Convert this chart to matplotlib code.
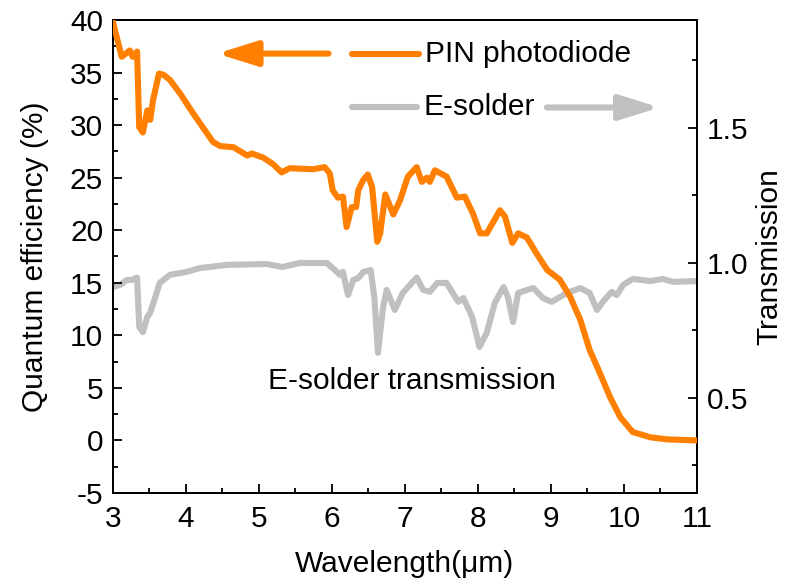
import numpy as np
import matplotlib
matplotlib.use("Agg")
import matplotlib.pyplot as plt
from matplotlib.ticker import MultipleLocator

plt.rcParams['font.family'] = ['Liberation Sans', 'DejaVu Sans']
plt.rcParams['axes.unicode_minus'] = False

# Quantum efficiency of the PIN photodiode (%) vs wavelength (um)
qe_wl = [3.00, 3.12, 3.23, 3.27, 3.33, 3.36, 3.41, 3.47, 3.51, 3.55, 3.63, 3.69,
         3.78, 3.92, 4.10, 4.23, 4.37, 4.47, 4.65, 4.84, 4.90, 5.06, 5.19, 5.31,
         5.42, 5.74, 5.90, 5.97, 6.01, 6.08, 6.15, 6.20, 6.27, 6.33, 6.36, 6.43,
         6.49, 6.55, 6.62, 6.66, 6.73, 6.84, 6.93, 7.04, 7.16, 7.23, 7.30, 7.34,
         7.41, 7.57, 7.71, 7.82, 7.93, 8.03, 8.12, 8.30, 8.37, 8.47, 8.55, 8.67,
         8.81, 8.95, 9.12, 9.26, 9.40, 9.53, 9.67, 9.81, 9.95, 10.12, 10.36,
         10.59, 11.00]
qe_val = [39.8, 36.5, 37.1, 36.5, 37.0, 29.8, 29.3, 31.4, 30.5, 32.4, 34.9, 34.8,
          34.3, 33.0, 31.1, 29.8, 28.4, 28.0, 27.9, 27.1, 27.3, 26.9, 26.3, 25.5,
          25.9, 25.8, 26.0, 25.4, 23.8, 23.1, 23.2, 20.3, 22.2, 22.2, 23.8, 24.8,
          25.3, 24.1, 18.9, 19.7, 23.4, 21.5, 22.8, 25.1, 26.0, 24.6, 25.0, 24.6,
          25.7, 25.1, 23.1, 23.2, 21.6, 19.7, 19.7, 21.9, 21.3, 18.8, 19.7, 19.3,
          17.7, 16.2, 15.3, 13.7, 11.5, 8.6, 6.4, 4.1, 2.2, 0.8, 0.3,
          0.1, 0.0]

# Transmission of the E-solder film vs wavelength (um)
tr_wl = [3.00, 3.10, 3.19, 3.26, 3.33, 3.36, 3.41, 3.47, 3.51, 3.58, 3.64, 3.78,
         4.01, 4.19, 4.56, 5.11, 5.32, 5.56, 5.93, 6.01, 6.11, 6.15, 6.22, 6.29,
         6.36, 6.43, 6.53, 6.58, 6.63, 6.70, 6.75, 6.86, 6.97, 7.16, 7.25, 7.34,
         7.44, 7.57, 7.73, 7.80, 7.92, 8.02, 8.12, 8.23, 8.35, 8.41, 8.48, 8.55,
         8.67, 8.76, 8.89, 9.01, 9.22, 9.40, 9.53, 9.63, 9.71, 9.83, 9.90, 9.99,
         10.12, 10.36, 10.53, 10.67, 11.00]
tr_val = [0.911, 0.919, 0.937, 0.937, 0.946, 0.763, 0.744, 0.800, 0.815, 0.874,
          0.926, 0.956, 0.967, 0.981, 0.993, 0.996, 0.985, 1.000, 1.000, 0.981,
          0.956, 0.967, 0.881, 0.937, 0.944, 0.967, 0.974, 0.874, 0.667, 0.837,
          0.900, 0.826, 0.889, 0.946, 0.900, 0.893, 0.926, 0.926, 0.856, 0.870,
          0.800, 0.689, 0.741, 0.852, 0.911, 0.874, 0.781, 0.889, 0.900, 0.907,
          0.870, 0.856, 0.889, 0.907, 0.889, 0.826, 0.856, 0.893, 0.881, 0.919,
          0.941, 0.933, 0.941, 0.930, 0.933]

ORANGE = '#ff8000'
GREY = '#c0c0c0'
FS = 21.5
LW = 4.4

fig = plt.figure(figsize=(7.85, 5.83), dpi=100)
ax = fig.add_axes([0.1439, 0.1544, 0.7440, 0.8113])
ax2 = ax.twinx()

ax.plot(qe_wl, qe_val, color=ORANGE, lw=LW, solid_joinstyle='round',
        solid_capstyle='round', zorder=3)
ax2.plot(tr_wl, tr_val, color=GREY, lw=LW, solid_joinstyle='round',
         solid_capstyle='round', zorder=2)
ax.set_zorder(ax2.get_zorder() + 1)
ax.patch.set_visible(False)

ax.set_xlim(3, 11)
ax.set_ylim(-5, 40)
ax2.set_ylim(0.148, 1.9)

ax.xaxis.set_major_locator(MultipleLocator(1))
ax.xaxis.set_minor_locator(MultipleLocator(0.5))
ax.yaxis.set_major_locator(MultipleLocator(5))
ax.yaxis.set_minor_locator(MultipleLocator(2.5))
ax2.yaxis.set_major_locator(MultipleLocator(0.5))
ax2.yaxis.set_minor_locator(MultipleLocator(0.25))

for a in (ax, ax2):
    a.tick_params(which='major', direction='in', length=6.5, width=1.3,
                  labelsize=FS, pad=7)
    a.tick_params(which='minor', direction='in', length=3.5, width=1.3)
    for s in a.spines.values():
        s.set_linewidth(1.4)
ax.tick_params(which='both', top=False, right=False)
ax.tick_params(axis='x', pad=9)
ax2.tick_params(which='both', left=False, top=False)

ax.set_xlabel('Wavelength(\u03bcm)', fontsize=FS, labelpad=12)
ax.set_ylabel('Quantum efficiency (%)', fontsize=FS, labelpad=15)
ax2.set_ylabel('Transmission', fontsize=FS, labelpad=5)

# Legend-style annotations with arrows pointing to the relevant axis
tr = ax.transAxes
head = '-|>,head_length=2.4,head_width=0.75'
ax.annotate('', xy=(0.178, 0.929), xytext=(0.369, 0.929), xycoords=tr,
            arrowprops=dict(arrowstyle=head, color=ORANGE, lw=LW,
                            shrinkA=0, shrinkB=0))
ax.plot([0.410, 0.524], [0.929, 0.929], transform=tr, color=ORANGE, lw=LW,
        solid_capstyle='round')
ax.text(0.535, 0.929, 'PIN photodiode', transform=tr, fontsize=FS,
        va='center', ha='left')

ax.plot([0.410, 0.520], [0.815, 0.815], transform=tr, color=GREY, lw=LW,
        solid_capstyle='round')
ax.text(0.531, 0.815, 'E-solder', transform=tr, fontsize=FS,
        va='center', ha='left')
ax.annotate('', xy=(0.936, 0.815), xytext=(0.743, 0.815), xycoords=tr,
            arrowprops=dict(arrowstyle=head, color=GREY, lw=LW,
                            shrinkA=0, shrinkB=0))

ax.text(7.1, 5.7, 'E-solder transmission', fontsize=FS, ha='center',
        va='center')

fig.savefig('out.png', dpi=100)
